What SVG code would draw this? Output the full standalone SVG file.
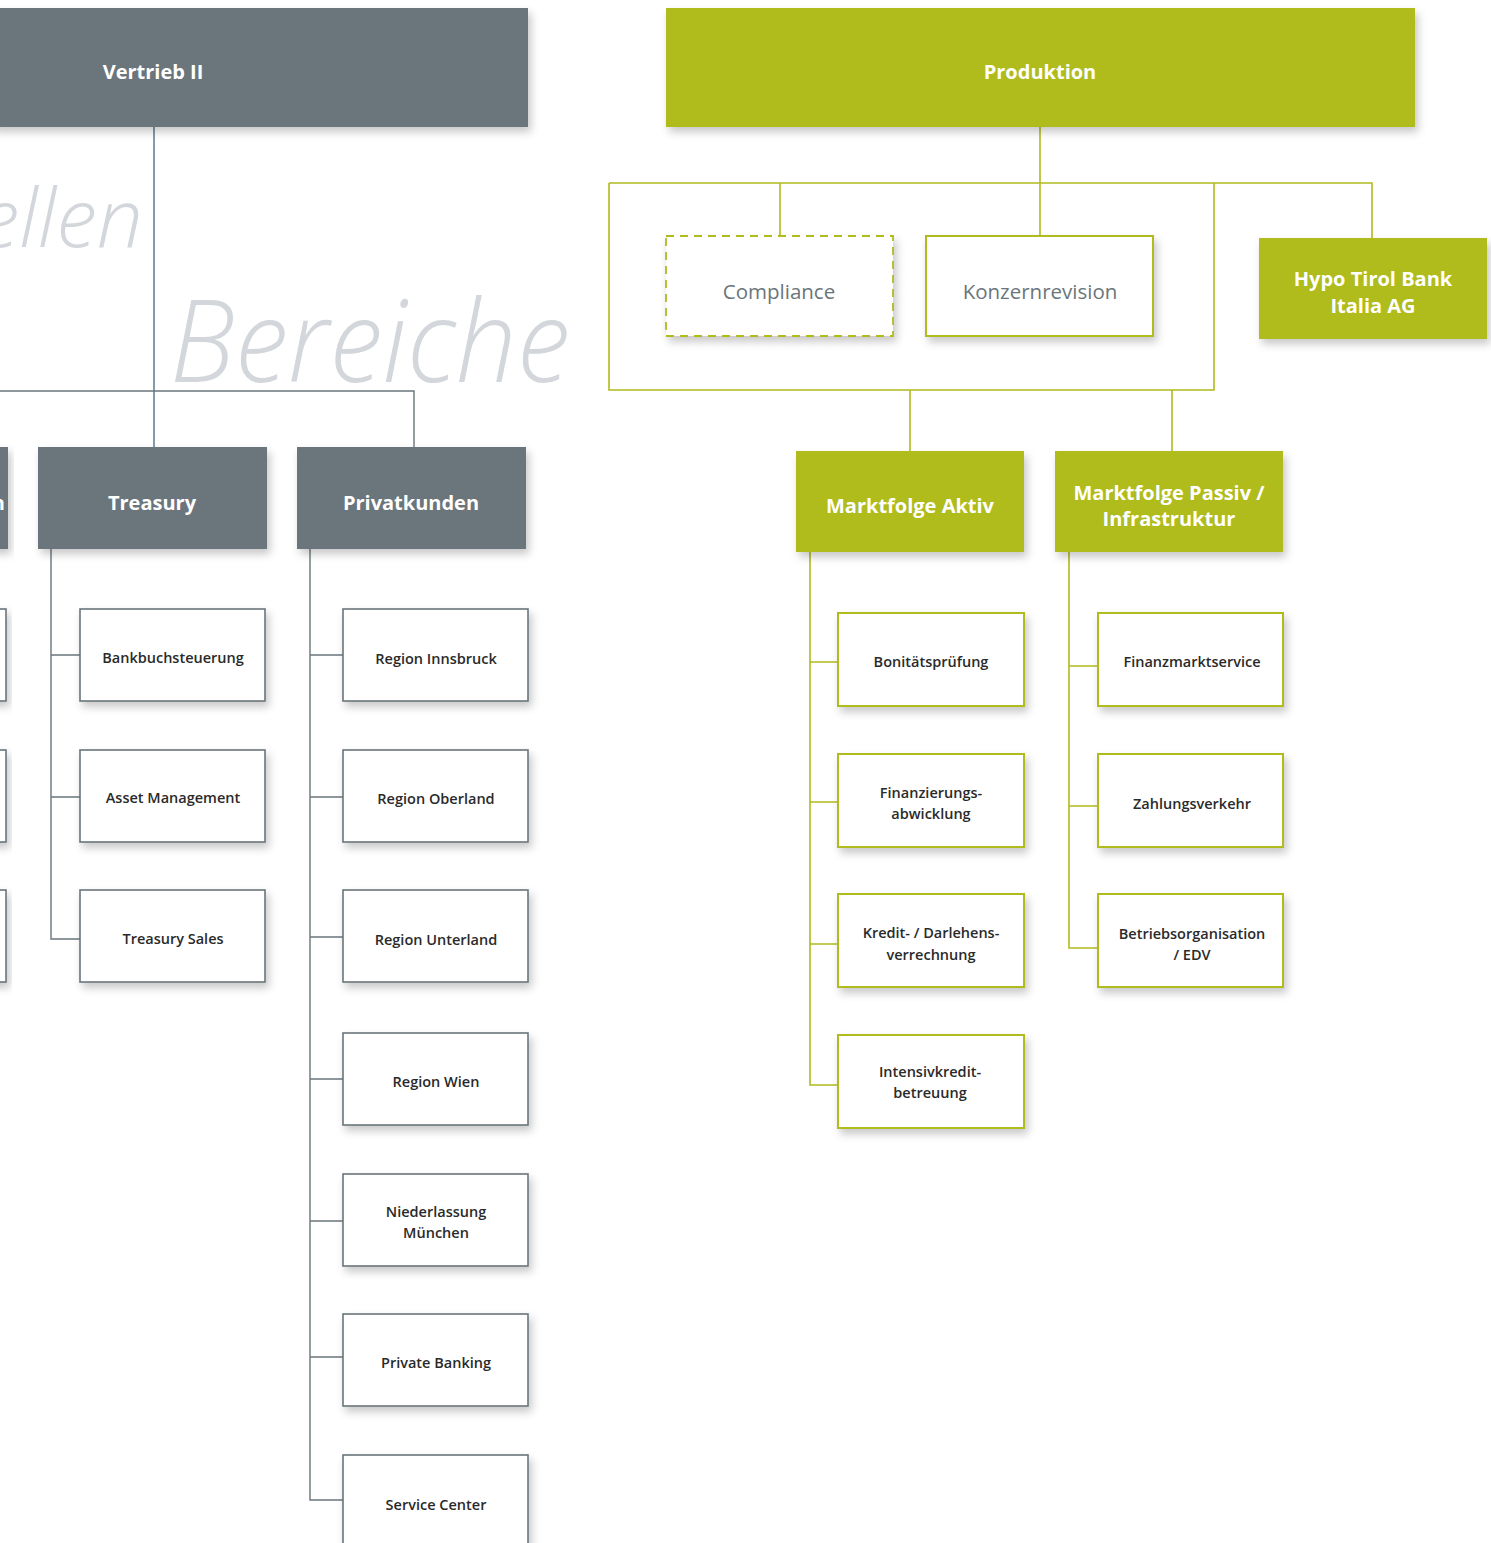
<svg xmlns="http://www.w3.org/2000/svg" width="1491" height="1543" viewBox="0 0 1491 1543">
<defs>
<filter id="sh" x="-10%" y="-10%" width="130%" height="140%">
<feDropShadow dx="3" dy="5" stdDeviation="4" flood-color="#000" flood-opacity="0.22"/>
</filter>
<style>
.wm{font-family:"Open Sans","Noto Sans",sans-serif;font-style:italic;font-weight:300;fill:#d3d6da}
.gh{fill:#6a757b}
.gn{fill:#b0bb1f}
.ht{font-family:"Open Sans","Noto Sans",sans-serif;font-weight:700;fill:#fff;font-size:20px;text-anchor:middle}
.wb{fill:#fff;stroke:#6a757b;stroke-width:1.6}
.wg{fill:#fff;stroke:#b0bb1f;stroke-width:2}
.ct{font-family:"Open Sans","Noto Sans",sans-serif;font-weight:600;fill:#2a2a2a;font-size:14.5px;text-anchor:middle}
.lt{font-family:"Open Sans","Noto Sans",sans-serif;font-weight:400;fill:#6a757b;font-size:20.5px;text-anchor:middle}
.cg{fill:none;stroke:#6a757b;stroke-width:1.4}
.cb{fill:none;stroke:#4f7186;stroke-width:1.4}
.cn{fill:none;stroke:#b0bb1f;stroke-width:1.6}
</style>
</defs>
<rect width="1491" height="1543" fill="#fff"/>
<text class="wm" x="143" y="247" font-size="82" text-anchor="end">ellen</text>
<text class="wm" x="170" y="382" font-size="114" textLength="400" lengthAdjust="spacingAndGlyphs">Bereiche</text>

<g id="connectors">
<path class="cb" d="M154 127V447"/>
<path class="cg" d="M0 391H414V447"/>
<path class="cg" d="M51 549V939H80M51 655H80M51 797H80"/>
<path class="cg" d="M310 549V1500H343M310 655H343M310 797H343M310 937H343M310 1079H343M310 1221H343M310 1357H343"/>
<path class="cn" d="M1040 127V236"/>
<path class="cn" d="M609 183H1372V238M609 183V390H1214V183"/>
<path class="cn" d="M780 183V236"/>
<path class="cn" d="M910 390V451M1172 390V451"/>
<path class="cn" d="M810 552V1085H838M810 662H838M810 802H838M810 944H838"/>
<path class="cn" d="M1069 552V948H1098M1069 666H1098M1069 806H1098"/>
</g>

<g id="vertrieb2"><rect class="gh" x="-10" y="8" width="538" height="119" filter="url(#sh)"/><text class="ht" x="153" y="79">Vertrieb II</text></g>
<g id="produktion"><rect class="gn" x="666" y="8" width="749" height="119" filter="url(#sh)"/><text class="ht" x="1040" y="79">Produktion</text></g>

<g id="left-partial"><rect class="gh" x="-20" y="447" width="28" height="102" filter="url(#sh)"/><text class="ht" x="5" y="510" style="text-anchor:end">n</text></g>
<g id="left-partial-1"><rect class="wb" x="-20" y="609" width="26" height="92" filter="url(#sh)"/></g>
<g id="left-partial-2"><rect class="wb" x="-20" y="750" width="26" height="92" filter="url(#sh)"/></g>
<g id="left-partial-3"><rect class="wb" x="-20" y="890" width="26" height="92" filter="url(#sh)"/></g>

<g id="treasury"><rect class="gh" x="38" y="447" width="229" height="102" filter="url(#sh)"/><text class="ht" x="152" y="510">Treasury</text></g>
<g id="privatkunden"><rect class="gh" x="297" y="447" width="229" height="102" filter="url(#sh)"/><text class="ht" x="411" y="510">Privatkunden</text></g>

<g id="bankbuch"><rect class="wb" x="80" y="609" width="185" height="92" filter="url(#sh)"/><text class="ct" x="173" y="663">Bankbuchsteuerung</text></g>
<g id="assetmgmt"><rect class="wb" x="80" y="750" width="185" height="92" filter="url(#sh)"/><text class="ct" x="173" y="803">Asset Management</text></g>
<g id="treasurysales"><rect class="wb" x="80" y="890" width="185" height="92" filter="url(#sh)"/><text class="ct" x="173" y="944">Treasury Sales</text></g>

<g id="innsbruck"><rect class="wb" x="343" y="609" width="185" height="92" filter="url(#sh)"/><text class="ct" x="436" y="664">Region Innsbruck</text></g>
<g id="oberland"><rect class="wb" x="343" y="750" width="185" height="92" filter="url(#sh)"/><text class="ct" x="436" y="804">Region Oberland</text></g>
<g id="unterland"><rect class="wb" x="343" y="890" width="185" height="92" filter="url(#sh)"/><text class="ct" x="436" y="945">Region Unterland</text></g>
<g id="wien"><rect class="wb" x="343" y="1033" width="185" height="92" filter="url(#sh)"/><text class="ct" x="436" y="1087">Region Wien</text></g>
<g id="muenchen"><rect class="wb" x="343" y="1174" width="185" height="92" filter="url(#sh)"/><text class="ct" x="436" y="1217">Niederlassung</text><text class="ct" x="436" y="1238">München</text></g>
<g id="privatebanking"><rect class="wb" x="343" y="1314" width="185" height="92" filter="url(#sh)"/><text class="ct" x="436" y="1368">Private Banking</text></g>
<g id="servicecenter"><rect class="wb" x="343" y="1455" width="185" height="100" filter="url(#sh)"/><text class="ct" x="436" y="1510">Service Center</text></g>

<g id="compliance"><rect x="666" y="236" width="227" height="100" fill="#fff" stroke="#b0bb1f" stroke-width="1.8" stroke-dasharray="8,6" filter="url(#sh)"/><text class="lt" x="779" y="299">Compliance</text></g>
<g id="konzernrevision"><rect class="wg" x="926" y="236" width="227" height="100" filter="url(#sh)"/><text class="lt" x="1040" y="299">Konzernrevision</text></g>
<g id="hypoitalia"><rect class="gn" x="1259" y="238" width="228" height="101" filter="url(#sh)"/><text class="ht" x="1373" y="286">Hypo Tirol Bank</text><text class="ht" x="1373" y="313">Italia AG</text></g>

<g id="marktfolgeaktiv"><rect class="gn" x="796" y="451" width="228" height="101" filter="url(#sh)"/><text class="ht" x="910" y="513">Marktfolge Aktiv</text></g>
<g id="marktfolgepassiv"><rect class="gn" x="1055" y="451" width="228" height="101" filter="url(#sh)"/><text class="ht" x="1169" y="500">Marktfolge Passiv /</text><text class="ht" x="1169" y="526">Infrastruktur</text></g>

<g id="bonitaet"><rect class="wg" x="838" y="613" width="186" height="93" filter="url(#sh)"/><text class="ct" x="931" y="667">Bonitätsprüfung</text></g>
<g id="finanzierung"><rect class="wg" x="838" y="754" width="186" height="93" filter="url(#sh)"/><text class="ct" x="931" y="798">Finanzierungs-</text><text class="ct" x="931" y="819">abwicklung</text></g>
<g id="kredit"><rect class="wg" x="838" y="894" width="186" height="93" filter="url(#sh)"/><text class="ct" x="931" y="938">Kredit- / Darlehens-</text><text class="ct" x="931" y="960">verrechnung</text></g>
<g id="intensiv"><rect class="wg" x="838" y="1035" width="186" height="93" filter="url(#sh)"/><text class="ct" x="930" y="1077">Intensivkredit-</text><text class="ct" x="930" y="1098">betreuung</text></g>

<g id="finanzmarkt"><rect class="wg" x="1098" y="613" width="185" height="93" filter="url(#sh)"/><text class="ct" x="1192" y="667">Finanzmarktservice</text></g>
<g id="zahlung"><rect class="wg" x="1098" y="754" width="185" height="93" filter="url(#sh)"/><text class="ct" x="1192" y="809">Zahlungsverkehr</text></g>
<g id="betriebsorg"><rect class="wg" x="1098" y="894" width="185" height="93" filter="url(#sh)"/><text class="ct" x="1192" y="939">Betriebsorganisation</text><text class="ct" x="1192" y="960">/ EDV</text></g>
</svg>
